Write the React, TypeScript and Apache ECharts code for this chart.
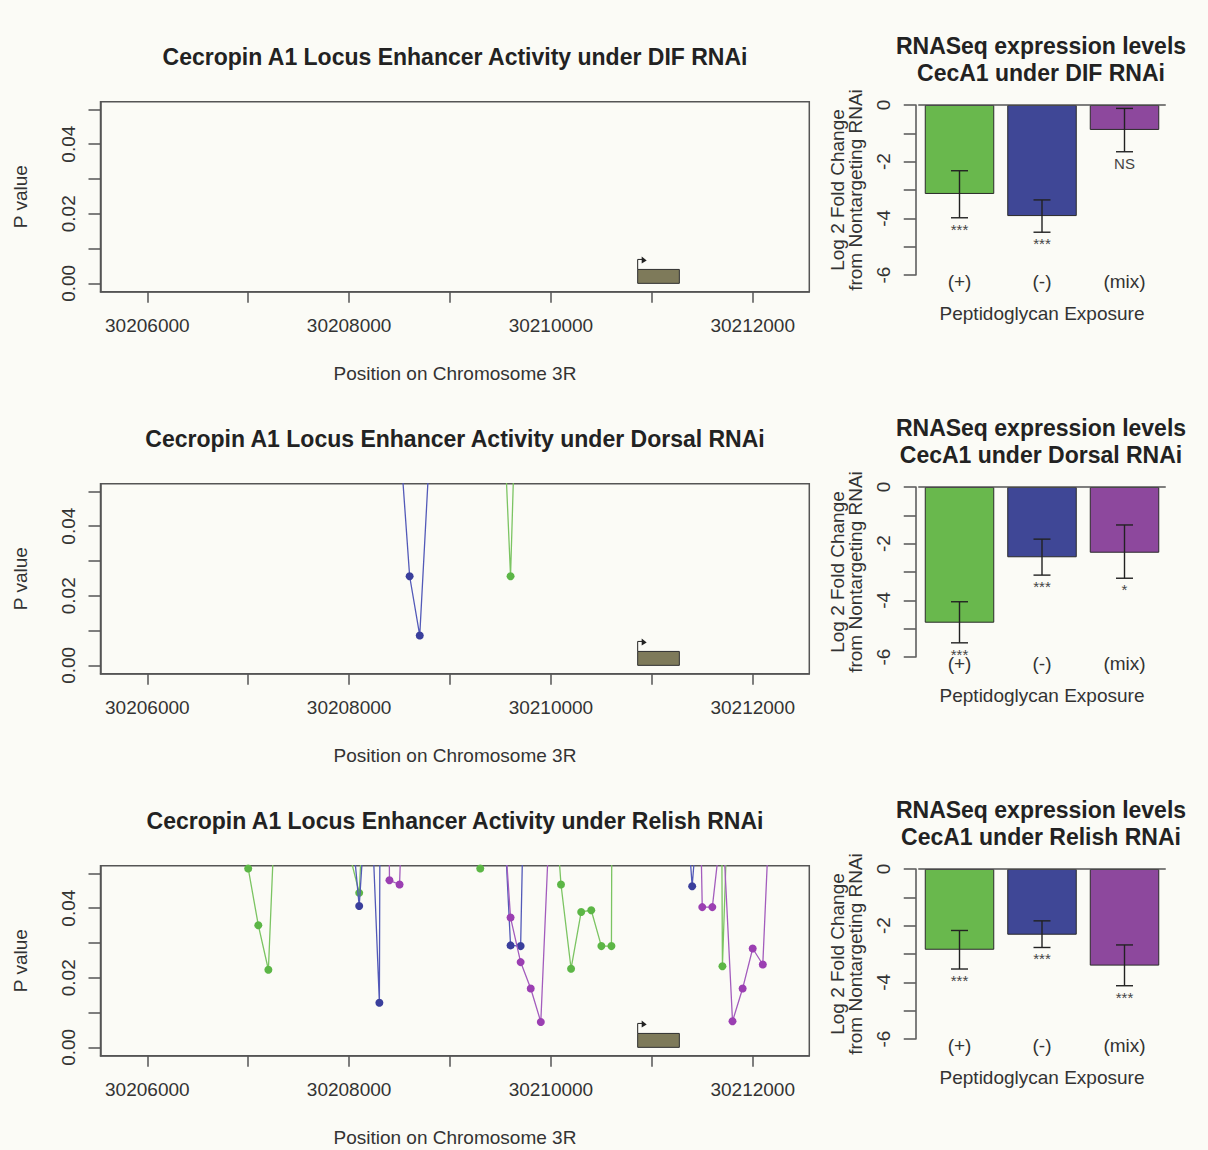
import React, { useEffect, useRef } from 'react';
import * as echarts from 'echarts';

const FONT = '"Liberation Sans", Arial, Helvetica, sans-serif';

// ---- text ----
const panelNames = ['DIF', 'Dorsal', 'Relish'];
const locusTitles = panelNames.map((n) => `Cecropin A1 Locus Enhancer Activity under ${n} RNAi`);
const barTitles = panelNames.map((n) => `RNASeq expression levels\nCecA1 under ${n} RNAi`);
const locusXName = 'Position on Chromosome 3R';
const locusYName = 'P value';
const barXName = 'Peptidoglycan Exposure';
const barYName = 'Log 2 Fold Change\nfrom Nontargeting RNAi';

// ---- axes / ticks ----
const xMin = 30205536;
const xMax = 30212561;
const xTickValues = [30206000, 30207000, 30208000, 30209000, 30210000, 30211000, 30212000];
const xLabelValues = [30206000, 30208000, 30210000, 30212000];
const pMin = -0.0024;
const pMax = 0.0522;
const pTickValues = [0, 0.01, 0.02, 0.03, 0.04, 0.05];
const pLabelValues = [0, 0.02, 0.04];
const fcTickValues = [0, -1, -2, -3, -4, -5, -6];
const fcLabelValues = [0, -2, -4, -6];
const exposureCats = ['(+)', '(-)', '(mix)'];

// ---- gene annotation (start, end, height) ----
const gene = [30210860, 30211273, 0.004];

// ---- enhancer p-values [position, p] ----
const difGreen: number[][] = [];
const difBlue: number[][] = [];
const difPurple: number[][] = [];

const dorsalGreen = [
  [30209500, 0.0927], [30209600, 0.0256], [30209700, 0.1245],
];
const dorsalBlue = [
  [30208500, 0.0664], [30208600, 0.0256], [30208700, 0.0086], [30208800, 0.063],
];
const dorsalPurple: number[][] = [];

const relishGreen = [
  [30206900, 0.2], [30207000, 0.0514], [30207100, 0.0351], [30207200, 0.0223], [30207300, 0.092],
  [30208000, 0.056], [30208100, 0.0444], [30208200, 0.1036],
  [30209200, 0.2], [30209300, 0.0514], [30209400, 0.2],
  [30210000, 0.0875], [30210100, 0.0468], [30210200, 0.0226], [30210300, 0.0389],
  [30210400, 0.0394], [30210500, 0.0291], [30210600, 0.0291], [30210700, 0.9],
  [30211600, 0.6], [30211700, 0.0233], [30211800, 0.109],
];
const relishBlue = [
  [30208000, 0.072], [30208100, 0.0406], [30208200, 0.085], [30208300, 0.0128], [30208400, 0.9],
  [30209500, 0.087], [30209600, 0.0293], [30209700, 0.0291], [30209800, 0.173],
  [30211300, 0.088], [30211400, 0.0463], [30211500, 0.083],
];
const relishPurple = [
  [30208300, 0.5], [30208400, 0.048], [30208500, 0.0468], [30208600, 0.135],
  [30209500, 0.0796], [30209600, 0.0373], [30209700, 0.0245], [30209800, 0.0169],
  [30209900, 0.0073], [30210000, 0.0747],
  [30211400, 0.19], [30211500, 0.0403], [30211600, 0.0403], [30211700, 0.066],
  [30211800, 0.0075], [30211900, 0.0169], [30212000, 0.0284], [30212100, 0.0238], [30212200, 0.0896],
];

// ---- RNASeq fold changes ----
const difFold = [-3.14, -3.92, -0.88];
const difErrHigh = [-2.32, -3.35, -0.12];
const difErrLow = [-3.98, -4.49, -1.65];
const difSig = ['***', '***', 'NS'];

const dorsalFold = [-4.79, -2.48, -2.32];
const dorsalErrHigh = [-4.05, -1.84, -1.34];
const dorsalErrLow = [-5.5, -3.11, -3.22];
const dorsalSig = ['***', '***', '*'];

const relishFold = [-2.85, -2.32, -3.41];
const relishErrHigh = [-2.17, -1.83, -2.68];
const relishErrLow = [-3.53, -2.77, -4.12];
const relishSig = ['***', '***', '***'];

// ---- styles ----
const lineColors = ['#7bc462', '#5259b8', '#a35cbd'];
const pointColors = ['#5cb646', '#3a3f9c', '#9b3fb2'];
const barColors = ['#69b84d', '#3f4796', '#8d489d'];
const AXIS = '#555';
const TXT = '#333';

const rows = [
  { lines: [difGreen, difBlue, difPurple], fold: difFold, hi: difErrHigh, lo: difErrLow, sig: difSig },
  { lines: [dorsalGreen, dorsalBlue, dorsalPurple], fold: dorsalFold, hi: dorsalErrHigh, lo: dorsalErrLow, sig: dorsalSig },
  { lines: [relishGreen, relishBlue, relishPurple], fold: relishFold, hi: relishErrHigh, lo: relishErrLow, sig: relishSig },
];

function buildOption() {
  const grid: any[] = [];
  const xAxis: any[] = [];
  const yAxis: any[] = [];
  const series: any[] = [];
  const title: any[] = [];

  rows.forEach((row, k) => {
    const dy = 382 * k;
    const gL = 2 * k;
    const gB = 2 * k + 1;

    title.push({
      text: locusTitles[k],
      left: 455,
      top: 45 + dy,
      textAlign: 'center',
      padding: 0,
      textStyle: { fontFamily: FONT, fontSize: 23, fontWeight: 'bold', color: '#222' },
    });
    title.push({
      text: barTitles[k],
      left: 1041,
      top: 32 + dy,
      textAlign: 'center',
      padding: 0,
      textStyle: { fontFamily: FONT, fontSize: 23, fontWeight: 'bold', color: '#222', lineHeight: 27 },
    });

    grid.push({
      left: 100.5, top: 101.7 + dy, width: 708.8, height: 190,
      show: true, borderColor: AXIS, borderWidth: 1.5, backgroundColor: 'transparent',
    });
    grid.push({ left: 918.25, top: 105 + dy, width: 247.5, height: 170, show: false });

    xAxis.push({
      type: 'value', gridIndex: gL, min: xMin, max: xMax,
      axisLine: { show: true, onZero: false, lineStyle: { color: AXIS, width: 1.5 } },
      axisTick: { show: true, length: 11, customValues: xTickValues, lineStyle: { color: AXIS, width: 1.5 } },
      axisLabel: {
        customValues: xLabelValues, formatter: (v: number) => String(v),
        fontFamily: FONT, fontSize: 19, color: TXT, margin: 24,
      },
      splitLine: { show: false },
      name: locusXName, nameLocation: 'middle', nameGap: 72,
      nameTextStyle: { fontFamily: FONT, fontSize: 19, color: TXT },
    });
    xAxis.push({
      type: 'category', gridIndex: gB, data: exposureCats,
      axisLine: { show: false, onZero: false }, axisTick: { show: false },
      axisLabel: { fontFamily: FONT, fontSize: 19, color: TXT, margin: -3 },
      splitLine: { show: false },
      name: barXName, nameLocation: 'middle', nameGap: 28.5,
      nameTextStyle: { fontFamily: FONT, fontSize: 19, color: TXT },
    });

    yAxis.push({
      type: 'value', gridIndex: gL, min: pMin, max: pMax,
      axisLine: { show: true, onZero: false, lineStyle: { color: AXIS, width: 1.5 } },
      axisTick: { show: true, length: 12, customValues: pTickValues, lineStyle: { color: AXIS, width: 1.5 } },
      axisLabel: {
        customValues: pLabelValues, formatter: (v: number) => v.toFixed(2), rotate: 90,
        fontFamily: FONT, fontSize: 19, color: TXT, margin: 23,
      },
      splitLine: { show: false },
      name: locusYName, nameLocation: 'middle', nameRotate: 90, nameGap: 71,
      nameTextStyle: { fontFamily: FONT, fontSize: 19, color: TXT },
    });
    yAxis.push({
      type: 'value', gridIndex: gB, min: -6, max: 0, offset: 2.5,
      axisLine: { show: true, onZero: false, lineStyle: { color: AXIS, width: 1.5 } },
      axisTick: { show: true, length: 12, customValues: fcTickValues, lineStyle: { color: AXIS, width: 1.5 } },
      axisLabel: {
        customValues: fcLabelValues, formatter: (v: number) => String(v), rotate: 90,
        fontFamily: FONT, fontSize: 19, color: TXT, margin: 23,
      },
      splitLine: { show: false },
      name: barYName, nameLocation: 'middle', nameRotate: 90, nameGap: 51,
      nameTextStyle: { fontFamily: FONT, fontSize: 19, color: TXT, lineHeight: 18 },
    });

    // gene box
    series.push({
      type: 'custom', xAxisIndex: gL, yAxisIndex: gL, data: [gene],
      encode: { x: [0, 1], y: 2 }, z: 3, silent: true,
      renderItem: (params: any, api: any) => {
        const a = api.coord([api.value(0), 0]);
        const b = api.coord([api.value(1), api.value(2)]);
        const x0 = a[0], y0 = a[1], x1 = b[0], y1 = b[1];
        return {
          type: 'group',
          children: [
            { type: 'rect', shape: { x: x0, y: y1, width: x1 - x0, height: y0 - y1 }, style: { fill: '#7e7a5a', stroke: '#2f2f2f', lineWidth: 1 } },
            { type: 'polyline', shape: { points: [[x0, y1], [x0, y1 - 10], [x0 + 5, y1 - 10]] }, style: { stroke: '#222', lineWidth: 1, fill: null } },
            { type: 'polygon', shape: { points: [[x0 + 9, y1 - 9], [x0 + 4, y1 - 13], [x0 + 4, y1 - 6]] }, style: { fill: '#222' } },
          ],
        };
      },
    });

    // enhancer p-value lines
    row.lines.forEach((d, c) => {
      if (!d.length) return;
      series.push({
        type: 'line', xAxisIndex: gL, yAxisIndex: gL, data: d,
        symbol: 'circle', symbolSize: 8, showSymbol: true, clip: true, z: 4 + c,
        lineStyle: { color: lineColors[c], width: 1.3 },
        itemStyle: { color: pointColors[c] },
        silent: true,
      });
    });

    // bars
    series.push({
      type: 'bar', xAxisIndex: gB, yAxisIndex: gB, barWidth: 69.5,
      data: row.fold.map((v, i) => ({ value: v, itemStyle: { color: barColors[i] } })),
      itemStyle: { borderColor: '#2a2a2a', borderWidth: 1 },
      markLine: {
        silent: true, symbol: ['none', 'none'], label: { show: false },
        lineStyle: { color: AXIS, width: 1.5, type: 'solid' },
        data: [{ yAxis: 0 }],
      },
      silent: true,
    });

    // error bars + significance
    const sig = row.sig;
    series.push({
      type: 'custom', xAxisIndex: gB, yAxisIndex: gB, z: 10, silent: true,
      data: exposureCats.map((_, i) => [i, row.hi[i], row.lo[i]]),
      encode: { x: 0, y: [1, 2] },
      renderItem: (params: any, api: any) => {
        const i = api.value(0);
        const hi = api.coord([i, api.value(1)]);
        const lo = api.coord([i, api.value(2)]);
        const c = 8.5;
        const st = { stroke: '#222', lineWidth: 1.4 };
        return {
          type: 'group',
          children: [
            { type: 'line', shape: { x1: hi[0], y1: hi[1], x2: lo[0], y2: lo[1] }, style: st },
            { type: 'line', shape: { x1: hi[0] - c, y1: hi[1], x2: hi[0] + c, y2: hi[1] }, style: st },
            { type: 'line', shape: { x1: lo[0] - c, y1: lo[1], x2: lo[0] + c, y2: lo[1] }, style: st },
            {
              type: 'text', x: lo[0], y: lo[1] + 4,
              style: {
                text: sig[params.dataIndex], fill: '#444', fontSize: 15, fontFamily: FONT,
                align: 'center', verticalAlign: 'top', textAlign: 'center', textVerticalAlign: 'top',
              },
            },
          ],
        };
      },
    });
  });

  return {
    animation: false,
    backgroundColor: '#fbfbf6',
    textStyle: { fontFamily: FONT },
    title,
    grid,
    xAxis,
    yAxis,
    series,
  };
}

export default function App() {
  const ref = useRef<HTMLDivElement>(null);
  useEffect(() => {
    if (!ref.current) return;
    const chart = echarts.init(ref.current, null, { renderer: 'svg' });
    chart.setOption(buildOption() as any);
    return () => chart.dispose();
  }, []);
  return (
    <div
      ref={ref}
      style={{ position: 'absolute', left: 0, top: 0, width: 1208, height: 1150 }}
    />
  );
}
